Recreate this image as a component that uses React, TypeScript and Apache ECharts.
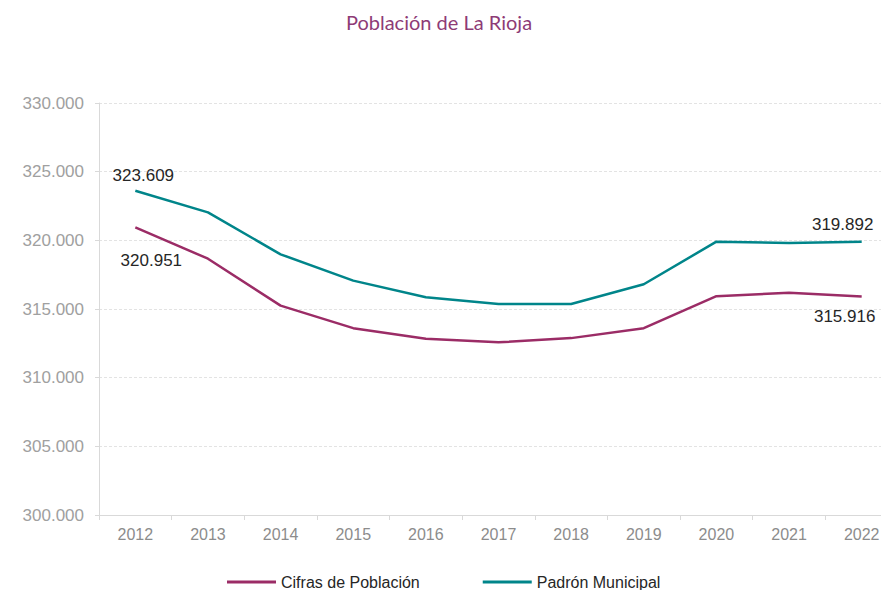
import React, { useEffect, useRef } from "react";
import * as echarts from "echarts";

const titleText = "Población de La Rioja";
const years = ["2012", "2013", "2014", "2015", "2016", "2017", "2018", "2019", "2020", "2021", "2022"];
const cifrasName = "Cifras de Población";
const padronName = "Padrón Municipal";
const cifras = [320951, 318663, 315247, 313605, 312826, 312570, 312880, 313600, 315930, 316190, 315916];
const padron = [323609, 322035, 318983, 317064, 315858, 315370, 315370, 316800, 319905, 319800, 319892];
const yMin = 300000;
const yMax = 330000;
const yStep = 5000;

const fmt = (v: number) => Math.round(v).toString().replace(/\B(?=(\d{3})+(?!\d))/g, ".");

const FONT = "'Liberation Sans', Arial, sans-serif";

export default function App() {
  const ref = useRef<HTMLDivElement>(null);
  useEffect(() => {
    if (!ref.current) return;
    const chart = echarts.init(ref.current, undefined, { renderer: "svg" });
    const labelStyle = { show: true, fontSize: 17, color: "#262626", fontFamily: FONT, formatter: (p: any) => fmt(p.value) };
    const mk = (vals: number[], first: any, last: any) =>
      vals.map((v, i) => {
        if (i === 0) return { value: v, label: { ...labelStyle, ...first } };
        if (i === vals.length - 1) return { value: v, label: { ...labelStyle, ...last } };
        return { value: v };
      });
    chart.setOption({
      animation: false,
      backgroundColor: "#ffffff",
      title: {
        text: titleText,
        left: 434,
        textAlign: "center",
        top: 7,
        textStyle: { fontFamily: "Lato, 'Open Sans', sans-serif", fontWeight: "normal", fontSize: 20, color: "#8e3b76" },
      },
      legend: {
        left: 227,
        top: 574,
        padding: 0,
        itemWidth: 49,
        itemHeight: 3,
        itemGap: 63,
        icon: "rect",
        textStyle: { fontFamily: FONT, fontSize: 16, color: "#262626" },
        data: [cifrasName, padronName],
      },
      grid: { left: 99, right: 2, top: 103, bottom: 75, containLabel: false },
      xAxis: {
        type: "category",
        data: years,
        boundaryGap: true,
        axisLine: { lineStyle: { color: "#d9d9d9", width: 1 } },
        axisTick: { show: true, length: 5, lineStyle: { color: "#d9d9d9" } },
        axisLabel: { fontFamily: FONT, fontSize: 16, color: "#8c8c8c", margin: 11 },
      },
      yAxis: {
        type: "value",
        min: yMin,
        max: yMax,
        interval: yStep,
        axisLine: { show: true, lineStyle: { color: "#d9d9d9", width: 1 } },
        axisTick: { show: true, length: 4, lineStyle: { color: "#d9d9d9" } },
        axisLabel: { fontFamily: FONT, fontSize: 17, color: "#a0a0a0", margin: 15, formatter: (v: number) => fmt(v) },
        splitLine: { show: true, lineStyle: { color: "#e3e3e3", type: [3, 2], width: 1 } },
      },
      series: [
        {
          name: cifrasName,
          type: "line",
          data: mk(cifras, { position: "bottom", offset: [16, 20] }, { position: "bottom", offset: [-17, 7] }),
          symbol: "circle",
          symbolSize: 0.1,
          showSymbol: true,
          lineStyle: { color: "#9b2c66", width: 2.5 },
          itemStyle: { color: "#9b2c66" },
          z: 3,
        },
        {
          name: padronName,
          type: "line",
          data: mk(padron, { position: "top", offset: [8, -2] }, { position: "top", offset: [-19, -4] }),
          symbol: "circle",
          symbolSize: 0.1,
          showSymbol: true,
          lineStyle: { color: "#00858a", width: 2.5 },
          itemStyle: { color: "#00858a" },
          z: 3,
        },
      ],
    });
    return () => chart.dispose();
  }, []);
  return (
    <div style={{ position: "absolute", left: 0, top: 0, width: 881, height: 590, overflow: "hidden" }}>
      <div ref={ref} style={{ width: 900, height: 590 }} />
    </div>
  );
}
